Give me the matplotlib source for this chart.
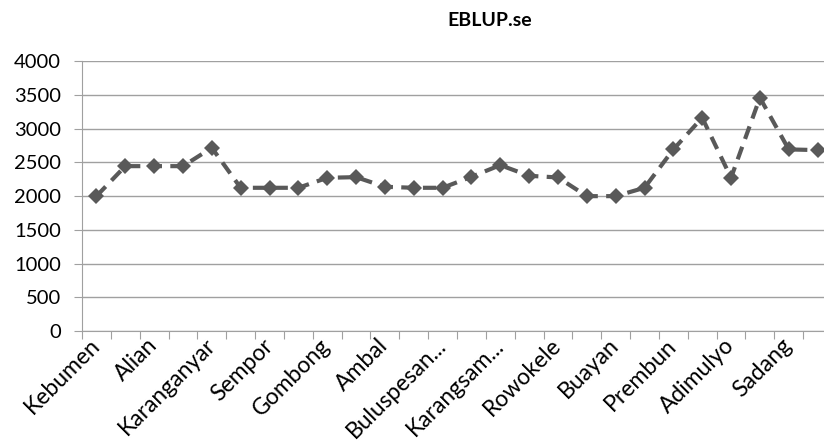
import numpy as np
import matplotlib.pyplot as plt

# subdistricts (every second name is shown on the axis)
kecamatan = ['Kebumen', 'Pejagoan', 'Alian', 'Poncowarno', 'Karanganyar',
             'Karanggayam', 'Sempor', 'Sruweng', 'Gombong', 'Kuwarasan',
             'Ambal', 'Mirit', 'Buluspesantren', 'Klirong', 'Karangsambung',
             'Padureso', 'Rowokele', 'Ayah', 'Buayan', 'Puring', 'Prembun',
             'Kutowinangun', 'Adimulyo', 'Petanahan', 'Sadang', 'Bonorowo']
tick_labels = ['Kebumen', 'Alian', 'Karanganyar', 'Sempor', 'Gombong', 'Ambal',
               'Buluspesan...', 'Karangsam...', 'Rowokele', 'Buayan', 'Prembun',
               'Adimulyo', 'Sadang']
eblup_se = [2000, 2445, 2445, 2445, 2717, 2124, 2124, 2124, 2272, 2282,
            2139, 2124, 2124, 2287, 2460, 2302, 2277, 2000, 2000, 2124,
            2693, 3163, 2272, 3460, 2693, 2683]

plt.rcParams['font.family'] = ['Lato', 'DejaVu Sans']

fig = plt.figure(figsize=(8.24, 4.46), dpi=100)
ax = fig.add_axes([82/824, 1 - 331/446, 750/824, (331 - 61.3)/446])

x = np.arange(len(kecamatan))
ax.plot(x, eblup_se, color='#595959', linewidth=3, dashes=(3.2, 2),
        marker='D', markersize=8, markeredgewidth=0, zorder=3)

ax.set_xlim(-0.5, len(kecamatan) - 0.5)
ax.set_ylim(0, 4000)
ax.set_yticks(np.arange(0, 4001, 500))
ax.tick_params(axis='y', labelsize=14.5, length=6, color='#a0a0a0', pad=9)
ax.grid(axis='y', color='#a0a0a0', linewidth=1)
ax.set_axisbelow(True)

ax.set_xticks(np.arange(-0.5, len(kecamatan), 1))
ax.set_xticklabels([])
ax.set_xticks(x[::2], tick_labels, minor=True)
ax.tick_params(axis='x', which='major', length=6, color='#a0a0a0')
ax.tick_params(axis='x', which='minor', length=0, labelsize=16.5, pad=8,
               labelrotation=45)
plt.setp(ax.get_xticklabels(minor=True), ha='right', va='center',
         rotation_mode='anchor')

for s in ['top', 'right']:
    ax.spines[s].set_visible(False)
for s in ['left', 'bottom']:
    ax.spines[s].set_color('#a0a0a0')

fig.text(490/824, 1 - 20/446, 'EBLUP.se', ha='center', va='center',
         fontsize=14, fontweight='bold')

fig.savefig('out.png', dpi=100)
